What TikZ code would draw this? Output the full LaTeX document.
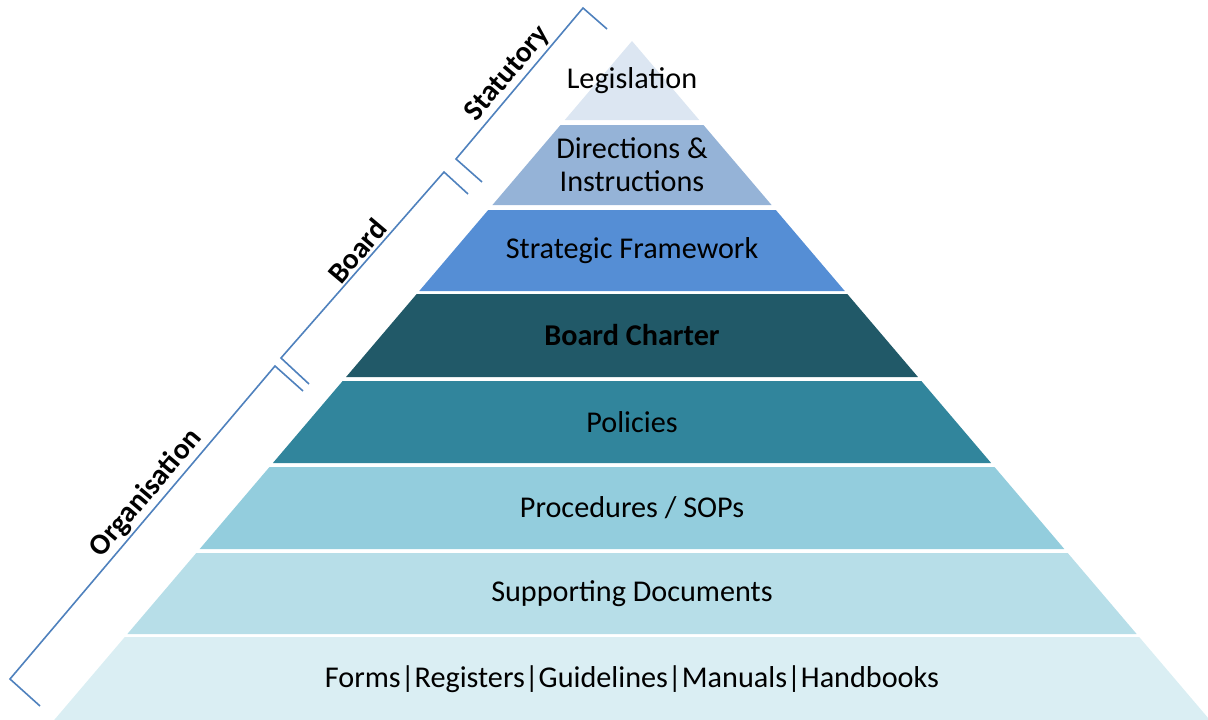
\documentclass[tikz,border=0pt]{standalone}
\usepackage{fontspec}
\setmainfont{Carlito}

\definecolor{lvlA}{HTML}{DCE6F2}
\definecolor{lvlB}{HTML}{95B3D7}
\definecolor{lvlC}{HTML}{558ED5}
\definecolor{lvlD}{HTML}{215968}
\definecolor{lvlE}{HTML}{31859C}
\definecolor{lvlF}{HTML}{93CDDD}
\definecolor{lvlG}{HTML}{B7DEE8}
\definecolor{lvlH}{HTML}{DAEEF3}
\definecolor{bracketblue}{HTML}{4F81BD}

\begin{document}
\begin{tikzpicture}[x=1pt, y=-1pt,
	layertext/.style={font=\fontsize{30.2}{33}\selectfont, align=center, inner sep=0pt},
	bracket/.style={draw=bracketblue, line width=1.6pt},
	bracketlabel/.style={font=\fontsize{29.5}{33}\selectfont\bfseries, rotate=49.8, anchor=south, inner sep=3pt}]
	
	\useasboundingbox (0,0) rectangle (1208,720);
	
	%% PYRAMID
	% Layers, top to bottom
	\foreach \t/\b/\c/\n/\txt in {41/120/lvlA/legis/Legislation,
		125/205/lvlB/direct/{Directions \&\\Instructions},
		210/291/lvlC/strat/Strategic Framework,
		294/377/lvlD/charter/\textbf{Board Charter},
		381/463/lvlE/policy/Policies,
		467/549/lvlF/proced/{Procedures / SOPs},
		553/634/lvlG/support/Supporting Documents,
		637/722/lvlH/forms/Forms|Registers|Guidelines|Manuals|Handbooks}
	{
		\fill[\c] ({632-0.851*(\t-41)},\t) -- ({632+0.851*(\t-41)},\t)
			-- ({632+0.851*(\b-41)},\b) -- ({632-0.851*(\b-41)},\b) -- cycle;
		\node[layertext] (\n) at (632,{(\t+\b)/2}) {\txt};
	}
	
	%% BRACKETS
	% Statutory
	\coordinate (statTop) at (583,8);
	\coordinate (statBot) at (456,159);
	\draw[bracket] (statTop) ++(24,21) -- (statTop) -- (statBot) -- ++(26,23);
	\path (statTop) -- (statBot) node[bracketlabel, pos=0.5] (statLbl) {Statutory};
	
	% Board
	\coordinate (boardTop) at (444,172);
	\coordinate (boardBot) at (281,358);
	\draw[bracket] (boardTop) ++(24,22) -- (boardTop) -- (boardBot) -- ++(28,26);
	\path (boardTop) -- (boardBot) node[bracketlabel, pos=0.47] (boardLbl) {Board};
	
	% Organisation
	\coordinate (orgTop) at (275,366);
	\coordinate (orgBot) at (10,679);
	\draw[bracket] (orgTop) ++(28,25) -- (orgTop) -- (orgBot) -- ++(30,27);
	\path (orgTop) -- (orgBot) node[bracketlabel, pos=0.44] (orgLbl) {Organisation};
	
\end{tikzpicture}
\end{document}
